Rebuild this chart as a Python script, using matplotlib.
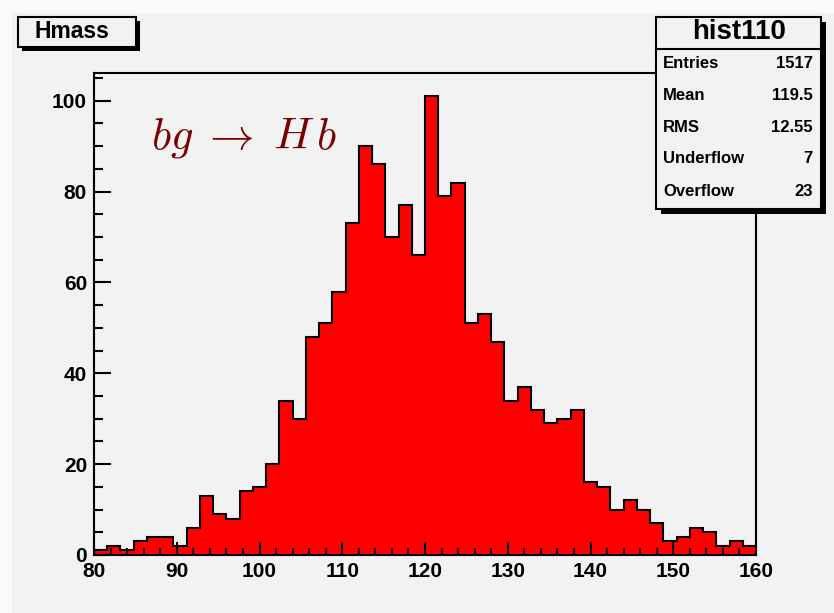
import numpy as np
import matplotlib
matplotlib.use("Agg")
import matplotlib.pyplot as plt
from matplotlib.patches import Rectangle
from matplotlib.lines import Line2D

plt.rcParams['font.family'] = ['Liberation Sans', 'DejaVu Sans']
plt.rcParams['mathtext.fontset'] = 'cm'

# histogram "hist110": 50 bins from 80 to 160
x_lo, x_hi, nbins = 80, 160, 50
counts = [1, 2, 1, 3, 4, 4, 2, 6, 13, 9,
          8, 14, 15, 20, 34, 30, 48, 51, 58, 73,
          90, 86, 70, 77, 66, 101, 79, 82, 51, 53,
          47, 34, 37, 32, 29, 30, 32, 16, 15, 10,
          12, 10, 7, 3, 4, 6, 5, 2, 3, 2]
hist_title = "Hmass"
stats_name = "hist110"
stats_labels = ["Entries", "Mean", "RMS", "Underflow", "Overflow"]
stats_values = ["1517", "119.5", "12.55", "7", "23"]
x_ticks = [80, 90, 100, 110, 120, 130, 140, 150, 160]
y_ticks = [0, 20, 40, 60, 80, 100]
latex_label = r'$bg\;\rightarrow\;H\,b$'

W, H = 834, 613
bg = '#f2f2f2'


def fx(x):
    return x / W


def fy(y):
    return 1 - y / H


fig = plt.figure(figsize=(W / 100, H / 100), dpi=100, facecolor='#fafafa')
fig.add_artist(Rectangle((fx(12), 0), 1, fy(13), transform=fig.transFigure,
                         facecolor=bg, edgecolor='none', zorder=-1))

ax = fig.add_axes([fx(94), fy(555), fx(756) - fx(94), fy(73.3) - fy(555)])
ax.set_facecolor('none')

edges = np.linspace(x_lo, x_hi, nbins + 1)
ax.stairs(counts, edges, fill=True, color='#ff0000', lw=0)
ax.stairs(counts, edges, baseline=0, color='black', lw=1.5)

ax.set_xlim(x_lo, x_hi)
ax.set_ylim(0, 1.05 * max(counts))
ax.set_xticks(x_ticks)
ax.set_xticks(np.arange(80, 161, 2), minor=True)
ax.set_yticks(y_ticks)
ax.set_yticks(np.arange(0, 106, 5), minor=True)

for s in ax.spines.values():
    s.set_linewidth(1.5)
ax.tick_params(axis='x', which='major', direction='in', length=9.5, width=1.5,
               labelsize=15, pad=5)
ax.tick_params(axis='x', which='minor', direction='in', length=4.7, width=1.5)
ax.tick_params(axis='y', which='major', direction='in', length=12.5, width=1.5,
               labelsize=15, pad=5)
ax.tick_params(axis='y', which='minor', direction='in', length=6.3, width=1.5)
for lab in ax.get_xticklabels() + ax.get_yticklabels():
    lab.set_fontweight('bold')

# latex label
fig.text(fx(151), fy(148), latex_label, color='#780000', fontsize=32,
         ha='left', va='baseline')


def box(x0, y0, x1, y1, shadow=5):
    fig.add_artist(Rectangle((fx(x0 + shadow), fy(y1 + shadow)),
                             fx(x1 - x0), fy(y0) - fy(y1),
                             transform=fig.transFigure, facecolor='black',
                             edgecolor='none', zorder=3))
    fig.add_artist(Rectangle((fx(x0), fy(y1)), fx(x1 - x0), fy(y0) - fy(y1),
                             transform=fig.transFigure, facecolor=bg,
                             edgecolor='black', lw=1.5, zorder=4))


# title box
box(18, 17, 136, 47, shadow=4)
fig.text(fx(72), fy(32), hist_title, fontsize=16.5, fontweight='bold',
         ha='center', va='center', zorder=5)

# stats box
box(656, 17, 821, 209, shadow=5)
fig.add_artist(Line2D([fx(656), fx(821)], [fy(49), fy(49)],
                      transform=fig.transFigure, color='black', lw=1.5,
                      zorder=5))
fig.text(fx(739), fy(32), stats_name, fontsize=20, fontweight='bold',
         ha='center', va='center', zorder=5)
row_y = [64, 95, 127, 158, 191]
for lab, val, yy in zip(stats_labels, stats_values, row_y):
    fig.text(fx(663), fy(yy), lab, fontsize=12, fontweight='bold',
             ha='left', va='center', zorder=5)
    fig.text(fx(813), fy(yy), val, fontsize=12, fontweight='bold',
             ha='right', va='center', zorder=5)

fig.savefig('out.png', dpi=100, facecolor=fig.get_facecolor())
